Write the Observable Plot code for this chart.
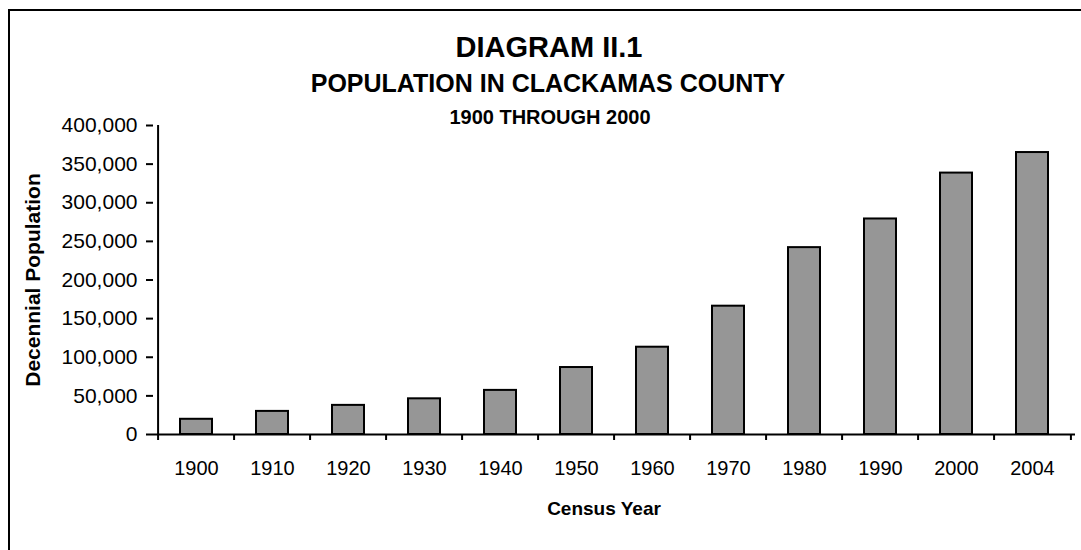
<!DOCTYPE html>
<html>
<head>
<meta charset="utf-8">
<script src="https://cdn.jsdelivr.net/npm/d3@7"></script>
<script src="https://cdn.jsdelivr.net/npm/@observablehq/plot@0.6"></script>
<style>
  html, body { margin: 0; padding: 0; background: #fff; overflow: hidden; }
  #wrap { position: relative; width: 1081px; height: 550px; font-family: "Liberation Sans", Arial, sans-serif; color: #000; }
  .t { position: absolute; white-space: nowrap; font-weight: bold; line-height: 1; transform: translateX(-50%); }
  #border { position: absolute; left: 8px; top: 9px; right: -10px; bottom: -10px; border-top: 2px solid #000; border-left: 2px solid #000; }
  svg { position: absolute; left: 0; top: 0; }
</style>
</head>
<body>
<div id="wrap">
  <div id="chart"></div>
  <div id="border"></div>
  <div class="t" style="left:549px; top:33px; font-size:29px;">DIAGRAM II.1</div>
  <div class="t" style="left:548px; top:71px; font-size:25px;">POPULATION IN CLACKAMAS COUNTY</div>
  <div class="t" style="left:550px; top:107px; font-size:20px;">1900 THROUGH 2000</div>
  <div class="t" style="left:604px; top:499px; font-size:19px;">Census Year</div>
</div>
<script>
const years = ["1900","1910","1920","1930","1940","1950","1960","1970","1980","1990","2000","2004"];
const population = [19700, 29900, 37700, 46200, 57100, 86700, 113000, 166100, 241900, 279000, 338400, 365000];
const yTicks = [0, 50000, 100000, 150000, 200000, 250000, 300000, 350000, 400000];
const yLabel = "Decennial Population";

const data = years.map((y, i) => ({year: y, pop: population[i]}));

const W = 1081, H = 550, mL = 153, mR = 6, mT = 125, mB = 116;
const step = (W - mL - mR) / years.length;

const chart = Plot.plot({
  width: W, height: H,
  marginLeft: mL, marginRight: mR, marginTop: mT, marginBottom: mB,
  style: {fontFamily: "'Liberation Sans', Arial, sans-serif", fontSize: "20px", color: "#000", background: "transparent"},
  x: {domain: years, padding: 0},
  y: {domain: [0, 400000]},
  marks: [
    Plot.barY(data, {x: "year", y: "pop", fill: "#969696", stroke: "#000", strokeWidth: 2, insetLeft: 22, insetRight: 22}),
    Plot.ruleY([0], {stroke: "#000", strokeWidth: 2}),
    Plot.ruleX([years[0]], {y1: 0, y2: 400000, dx: -step / 2, stroke: "#000", strokeWidth: 2}),
    Plot.axisY({ticks: yTicks, tickFormat: d3.format(","), tickSize: 7, tickPadding: 9, label: null, stroke: "#000", strokeWidth: 2, fontSize: 21}),
    Plot.axisX({tickSize: 0, tickPadding: 26, label: null, fontSize: 20}),
    Plot.axisX({tickSize: 6, tickFormat: () => "", dx: -step / 2, label: null, stroke: "#000", strokeWidth: 2}),
    Plot.axisX({ticks: [years[years.length - 1]], tickSize: 6, tickFormat: () => "", dx: step / 2, label: null, stroke: "#000", strokeWidth: 2}),
    Plot.text([yLabel], {frameAnchor: "left", textAnchor: "middle", lineAnchor: "middle", rotate: -90, dx: -120, fontSize: 21, fontWeight: "bold", text: d => d, fill: "#000"})
  ]
});
document.getElementById("chart").appendChild(chart);
</script>
</body>
</html>
